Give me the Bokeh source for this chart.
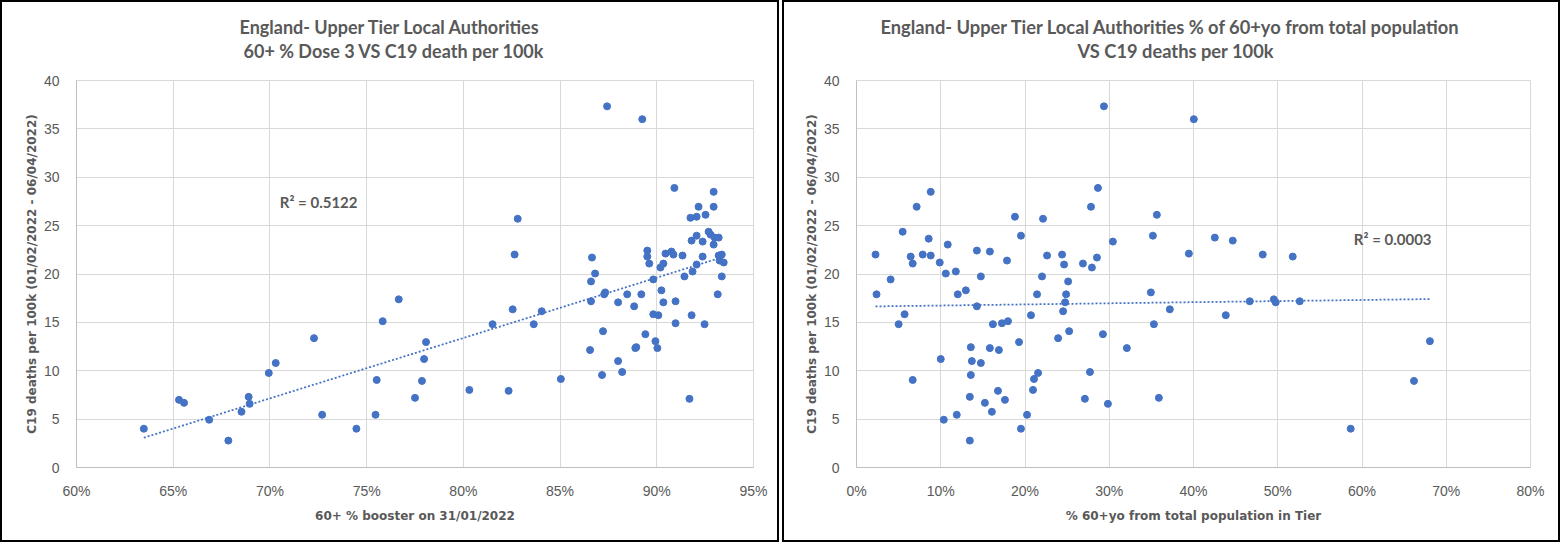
import numpy as np
from bokeh.plotting import figure
from bokeh.layouts import row
from bokeh.models import Range1d, FixedTicker, PrintfTickFormatter, Label, ColumnDataSource, Title
from bokeh.embed import file_html
from bokeh.resources import INLINE

# ---------------- data ----------------
booster_pct = [
    63.48, 65.30, 65.56, 66.86, 67.85, 68.53, 68.90, 68.95, 69.94, 70.30,
    72.28, 72.70, 74.47, 75.46, 75.52, 75.83, 76.66, 77.50, 77.86, 77.97,
    78.07, 80.31, 81.51, 82.34, 82.55, 82.65, 82.81, 83.64, 84.05, 85.04,
    86.55, 86.60, 86.60, 86.65, 86.81, 87.17, 87.22, 87.28, 87.33, 87.43,
    88.00, 88.00, 88.21, 88.47, 88.83, 88.89, 88.94, 89.20, 89.25, 89.41,
    89.51, 89.51, 89.61, 89.82, 89.82, 89.93, 90.03, 90.08, 90.19, 90.24,
    90.34, 90.34, 90.45, 90.76, 90.86, 90.91, 90.97, 90.97, 91.33, 91.43,
    91.69, 91.74, 91.80, 91.80, 91.85, 92.06, 92.06, 92.06, 92.16, 92.37,
    92.37, 92.47, 92.52, 92.68, 92.78, 92.94, 92.94, 92.94, 92.99, 93.15,
    93.20, 93.20, 93.25, 93.36, 93.36, 93.46,
]
deaths_left = [
    4.01, 6.99, 6.68, 4.94, 2.78, 5.76, 7.30, 6.58, 9.77, 10.80,
    13.37, 5.45, 4.01, 5.45, 9.05, 15.12, 17.38, 7.20, 8.95, 11.21,
    12.96, 8.02, 14.81, 7.92, 16.35, 22.01, 25.71, 14.81, 16.15, 9.15,
    12.14, 17.18, 19.23, 21.70, 20.05, 9.56, 14.09, 17.90, 18.10, 37.33,
    11.00, 17.07, 9.87, 17.90, 16.66, 12.34, 12.44, 17.90, 36.00, 13.78,
    22.42, 21.80, 21.08, 19.44, 15.84, 13.06, 12.34, 15.74, 20.67, 18.31,
    21.08, 17.07, 22.11, 22.32, 22.01, 28.90, 17.18, 14.91, 21.91, 19.75,
    7.10, 25.81, 23.45, 15.74, 20.26, 25.92, 20.98, 23.96, 26.95, 23.35,
    21.80, 14.81, 26.12, 24.37, 24.07, 28.49, 26.95, 23.04, 23.76, 17.90,
    23.76, 21.91, 21.39, 22.01, 19.75, 21.19,
]
pop60_pct = [
    2.26, 2.38, 4.05, 5.00, 5.48, 5.71, 6.43, 6.67, 6.67, 7.14,
    7.86, 8.57, 8.81, 8.81, 9.88, 10.00, 10.36, 10.60, 10.83, 11.79,
    11.90, 12.02, 12.98, 13.45, 13.45, 13.57, 13.57, 13.69, 14.29, 14.29,
    14.76, 14.76, 15.24, 15.83, 15.83, 16.07, 16.19, 16.79, 16.90, 17.26,
    17.62, 17.86, 17.98, 18.81, 19.29, 19.52, 19.52, 20.24, 20.71, 20.95,
    21.07, 21.43, 21.55, 22.02, 22.14, 22.62, 23.93, 24.40, 24.52, 24.64,
    24.76, 24.88, 25.12, 25.24, 26.88, 27.11, 27.71, 27.83, 27.94, 28.54,
    28.66, 29.25, 29.37, 29.84, 30.43, 32.09, 34.94, 35.18, 35.30, 35.65,
    35.89, 37.19, 39.45, 40.04, 42.53, 43.83, 44.66, 46.68, 48.22, 49.53,
    49.76, 51.78, 52.61, 58.66, 66.17, 68.06,
]
deaths_right = [
    22.01, 17.90, 19.44, 14.81, 24.37, 15.84, 21.80, 21.08, 9.05, 26.95,
    22.01, 23.65, 28.49, 21.91, 21.19, 11.21, 4.94, 20.05, 23.04, 20.26,
    5.45, 17.90, 18.31, 7.30, 2.78, 9.56, 12.44, 11.00, 22.42, 16.66,
    19.75, 10.80, 6.68, 22.32, 12.34, 5.76, 14.81, 7.92, 12.14, 14.91,
    6.99, 21.39, 15.12, 25.92, 12.96, 23.96, 4.01, 5.45, 15.74, 8.02,
    9.15, 17.90, 9.77, 19.75, 25.71, 21.91, 13.37, 22.01, 16.15, 20.98,
    17.07, 17.90, 19.23, 14.09, 21.08, 7.10, 9.87, 26.95, 20.67, 21.70,
    28.90, 13.78, 37.33, 6.58, 23.35, 12.34, 18.10, 23.96, 14.81, 26.12,
    7.20, 16.35, 22.11, 36.00, 23.76, 15.74, 23.45, 17.18, 22.01, 17.38,
    17.07, 21.80, 17.18, 4.01, 8.95, 13.06,
]

x_ticks_left = [60, 65, 70, 75, 80, 85, 90, 95]
x_ticks_right = [0, 10, 20, 30, 40, 50, 60, 70, 80]
y_ticks = [0, 5, 10, 15, 20, 25, 30, 35, 40]

left_title = ["England- Upper Tier Local Authorities", "60+ % Dose 3 VS C19 death per 100k"]
right_title = ["England- Upper Tier Local Authorities % of 60+yo from total population",
               "VS C19 deaths per 100k"]
left_xlabel = "60+ % booster on 31/01/2022"
right_xlabel = "% 60+yo from total population in Tier"
ylabel = "C19 deaths per 100k (01/02/2022 - 06/04/2022)"
left_r2 = "R\u00b2 = 0.5122"
right_r2 = "R\u00b2 = 0.0003"

DOT = "#4472C4"
GRID = "#d9d9d9"
TXT = "#595959"
TITLE_FONT = "Lato"
TICK_FONT = "Liberation Sans"
LABEL_FONT = "DejaVu Sans"


def make_panel(xs, ys, xr, xticks, title_lines, title_offsets, title_size, xlabel,
               r2_text, r2_x, r2_y, width, min_left, min_right):
    p = figure(width=width, height=538, output_backend="svg", toolbar_location=None,
               title=None, x_range=Range1d(*xr), y_range=Range1d(0, 40),
               min_border_left=min_left, min_border_right=min_right,
               min_border_top=78, min_border_bottom=73,
               background_fill_color="white", border_fill_color="white",
               outline_line_color=GRID, outline_line_width=1)

    p.xaxis.ticker = FixedTicker(ticks=xticks)
    p.yaxis.ticker = FixedTicker(ticks=y_ticks)
    p.xaxis.formatter = PrintfTickFormatter(format="%d%%")
    for ax in (p.xaxis, p.yaxis):
        ax.axis_line_color = "#bfbfbf"
        ax.major_tick_line_color = None
        ax.minor_tick_line_color = None
        ax.major_tick_out = 0
        ax.major_tick_in = 0
        ax.major_label_text_font = TICK_FONT
        ax.major_label_text_font_size = "14px"
        ax.major_label_text_color = TXT
        ax.axis_label_text_font = LABEL_FONT
        ax.axis_label_text_font_style = "bold"
        ax.axis_label_text_font_size = "12px"
        ax.axis_label_text_color = TXT
    p.xaxis.major_label_standoff = 15
    p.yaxis.major_label_standoff = 17
    p.xaxis.axis_label = xlabel
    p.yaxis.axis_label = ylabel
    p.xaxis.axis_label_standoff = 7
    p.yaxis.axis_label_standoff = 2
    p.xgrid.grid_line_color = GRID
    p.ygrid.grid_line_color = GRID

    src = ColumnDataSource(dict(x=xs, y=ys))
    # linear trendline from least squares on the data
    coef = np.polyfit(np.array(xs), np.array(ys), 1)
    tx = [min(xs), max(xs)]
    ty = [float(np.polyval(coef, v)) for v in tx]
    p.line(tx, ty, line_color=DOT, line_width=1.75, line_dash="2 2")
    p.scatter("x", "y", source=src, size=7, fill_color=DOT, line_color=DOT, marker="circle")

    p.add_layout(Label(x=r2_x, y=r2_y, text=r2_text, text_font=TITLE_FONT,
                       text_font_style="bold", text_font_size="15px", text_color=TXT,
                       text_align="left", text_baseline="middle"))
    # spacer between plot frame and the two title lines
    p.add_layout(Title(text=" ", text_font_size="1px", standoff=16), "above")
    # second line first (closest to the plot), then first line above it
    p.add_layout(Title(text=title_lines[1], align="left", offset=title_offsets[1],
                       text_font=TITLE_FONT, text_font_style="bold", text_font_size=title_size,
                       text_color=TXT, standoff=0), "above")
    p.add_layout(Title(text=title_lines[0], align="left", offset=title_offsets[0],
                       text_font=TITLE_FONT, text_font_style="bold", text_font_size=title_size,
                       text_color=TXT, standoff=0), "above")
    return p


left = make_panel(booster_pct, deaths_left, (60, 95), x_ticks_left, left_title, (163, 167),
                  "18px", left_xlabel, left_r2, 70.51, 27.49, 775, 74, 24)
right = make_panel(pop60_pct, deaths_right, (0, 80), x_ticks_right, right_title, (24, 221),
                   "18.3px", right_xlabel, right_r2, 59.03, 23.57, 774, 72, 28)

left_box = row(left, styles={"border": "2px solid #000000"})
right_box = row(right, styles={"border": "2px solid #000000"})
layout = row(left_box, right_box, spacing=3)
open("out.html", "w").write(file_html(layout, INLINE))
